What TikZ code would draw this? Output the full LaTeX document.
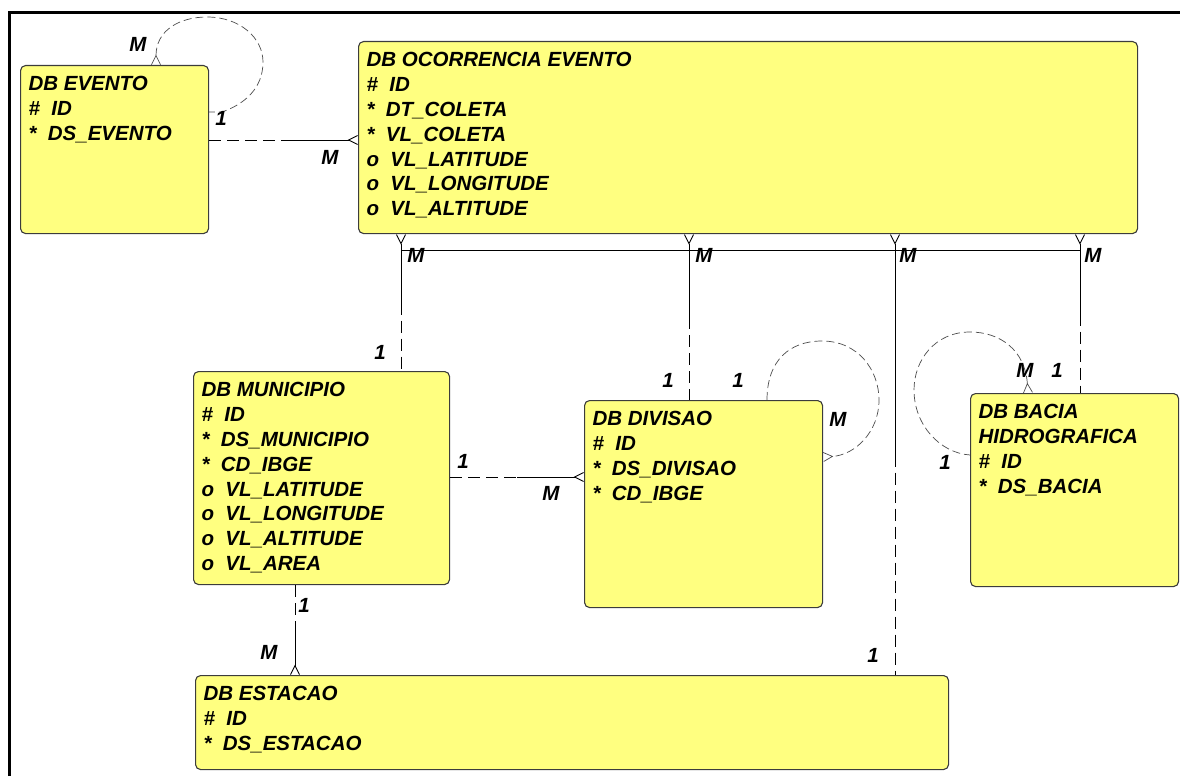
\documentclass[tikz,border=0pt]{standalone}
\usepackage{fontspec}
\setmainfont{Liberation Sans}
\usetikzlibrary{arrows.meta,calc}

\definecolor{amarelo}{RGB}{255,255,128}
\definecolor{borda}{RGB}{60,60,60}
\newcommand{\campos}{\fontsize{20.5}{24.8}\selectfont\bfseries\itshape}
\newcommand{\caixa}[3]{\parbox[c][\dimexpr#2pt-22pt\relax][t]{\dimexpr#1pt-16pt\relax}{#3}}

\tikzset{
  tabela/.style={draw=borda, line width=1.1pt, fill=amarelo, rounded corners=5pt,
    anchor=north west, inner xsep=8pt, inner ysep=11pt, font=\campos},
  card/.style={font=\campos, inner sep=0pt},
  obrig/.style={line width=0.9pt},
  opcional/.style={line width=0.9pt, dash pattern=on 12pt off 6pt},
  laco/.style={line width=0.7pt, draw=black!70, dash pattern=on 8pt off 4pt},
  pe inicio/.style={{Straight Barb[reversed,length=9pt,width=9pt]}-},
  pe fim/.style={-{Straight Barb[reversed,length=9pt,width=9pt]}},
}

\begin{document}
\begin{tikzpicture}[x=1pt,y=-1pt]
  \useasboundingbox (0,0) rectangle (1180,776);
  \draw[line width=3pt] (9,776) -- (9,13) -- (1180,13);

  % entidades
  \node[tabela] (evento) at (20,65)
    {\caixa{188}{168}{DB EVENTO\\\#~~ID\\{*}~~DS\_EVENTO}};
  \node[tabela] (ocorrencia) at (358,41)
    {\caixa{779}{192}{DB OCORRENCIA EVENTO\\\#~~ID\\{*}~~DT\_COLETA\\{*}~~VL\_COLETA\\o~~VL\_LATITUDE\\o~~VL\_LONGITUDE\\o~~VL\_ALTITUDE}};
  \node[tabela] (municipio) at (193,371)
    {\caixa{256}{213}{DB MUNICIPIO\\\#~~ID\\{*}~~DS\_MUNICIPIO\\{*}~~CD\_IBGE\\o~~VL\_LATITUDE\\o~~VL\_LONGITUDE\\o~~VL\_ALTITUDE\\o~~VL\_AREA}};
  \node[tabela] (divisao) at (584,400)
    {\caixa{238}{207}{DB DIVISAO\\\#~~ID\\{*}~~DS\_DIVISAO\\{*}~~CD\_IBGE}};
  \node[tabela] (bacia) at (970,393)
    {\caixa{208}{193}{DB BACIA\\HIDROGRAFICA\\\#~~ID\\{*}~~DS\_BACIA}};
  \node[tabela] (estacao) at (195,675)
    {\caixa{753}{94}{DB ESTACAO\\\#~~ID\\{*}~~DS\_ESTACAO}};

  % evento -- ocorrencia
  \coordinate (ev1) at (evento.east |- 0,140);
  \coordinate (oc1) at (ocorrencia.west |- 0,140);
  \coordinate (evm) at ($(ev1)!.5!(oc1)$);
  \draw[opcional] (ev1) -- (evm);
  \draw[obrig,pe inicio] (oc1) -- (evm);

  % ocorrencia -- municipio, divisao, estacao, bacia
  \coordinate (oc2) at (ocorrencia.south -| 401,0);
  \coordinate (mu1) at (municipio.north -| 401,0);
  \coordinate (mum) at ($(oc2)!.5!(mu1)$);
  \draw[obrig,pe inicio] (oc2) -- (mum);
  \draw[opcional] (mum) -- (mu1);

  \coordinate (oc3) at (ocorrencia.south -| 689,0);
  \coordinate (di1) at (divisao.north -| 689,0);
  \coordinate (dim) at ($(oc3)!.5!(di1)$);
  \draw[obrig,pe inicio] (oc3) -- (dim);
  \draw[opcional] (dim) -- (di1);

  \coordinate (oc4) at (ocorrencia.south -| 895,0);
  \coordinate (es1) at (estacao.north -| 895,0);
  \coordinate (esm) at ($(oc4)!.5!(es1)$);
  \draw[obrig,pe inicio] (oc4) -- (esm);
  \draw[opcional] (esm) -- (es1);

  \coordinate (oc5) at (ocorrencia.south -| 1080,0);
  \coordinate (ba1) at (bacia.north -| 1080,0);
  \coordinate (bam) at ($(oc5)!.5!(ba1)$);
  \draw[obrig,pe inicio] (oc5) -- (bam);
  \draw[opcional] (bam) -- (ba1);

  \coordinate (barra1) at (401,250);
  \coordinate (barra2) at (1080,250);
  \draw[obrig] (barra1) -- (barra2);

  % municipio -- divisao
  \coordinate (mu2) at (municipio.east |- 0,477);
  \coordinate (di2) at (divisao.west |- 0,477);
  \coordinate (mdm) at ($(mu2)!.5!(di2)$);
  \draw[opcional] (mu2) -- (mdm);
  \draw[obrig,pe inicio] (di2) -- (mdm);

  % municipio -- estacao
  \coordinate (mu3) at (municipio.south -| 295,0);
  \coordinate (es2) at (estacao.north -| 295,0);
  \coordinate (mem) at ($(mu3)!.5!(es2)$);
  \draw[opcional] (mu3) -- (mem);
  \draw[obrig,pe inicio] (es2) -- (mem);

  % autorrelacionamentos
  \coordinate (ev2) at (evento.north -| 156,0);
  \coordinate (ev3) at (evento.east |- 0,112);
  \draw[laco,pe inicio] (ev2) .. controls (156,30) and (180,17) .. (207,17)
    .. controls (240,17) and (263,38) .. (263,62)
    .. controls (263,88) and (245,104) .. (222,112) -- (ev3);

  \coordinate (di3) at (divisao.north -| 767,0);
  \coordinate (di4) at (divisao.east |- 0,457);
  \draw[laco,pe fim] (di3) .. controls (767,360) and (790,341) .. (822,341)
    .. controls (858,341) and (879,370) .. (879,400)
    .. controls (879,432) and (855,455) .. (di4);

  \coordinate (ba2) at (bacia.north -| 1028,0);
  \coordinate (ba3) at (bacia.west |- 0,455);
  \draw[laco,pe inicio] (ba2) .. controls (1025,350) and (1000,332) .. (970,332)
    .. controls (935,332) and (914,360) .. (914,390)
    .. controls (914,425) and (940,453) .. (ba3);

  % cardinalidades
  \node[card] (c-ev-m)  at (138,44)  {M};
  \node[card] (c-ev-1)  at (221,118) {1};
  \node[card] (c-oc-m1) at (330,157) {M};
  \node[card] (c-oc-m2) at (416,255) {M};
  \node[card] (c-oc-m3) at (704,255) {M};
  \node[card] (c-oc-m4) at (908,255) {M};
  \node[card] (c-oc-m5) at (1093,255) {M};
  \node[card] (c-mu-1)  at (380,352) {1};
  \node[card] (c-di-1a) at (668,380) {1};
  \node[card] (c-di-1b) at (738,380) {1};
  \node[card] (c-di-m)  at (838,419) {M};
  \node[card] (c-es-1)  at (873,655) {1};
  \node[card] (c-ba-m)  at (1025,370) {M};
  \node[card] (c-ba-1a) at (1057,370) {1};
  \node[card] (c-ba-1b) at (945,462) {1};
  \node[card] (c-md-1)  at (463,461) {1};
  \node[card] (c-md-m)  at (551,493) {M};
  \node[card] (c-me-1)  at (304,605) {1};
  \node[card] (c-me-m)  at (269,652) {M};
\end{tikzpicture}
\end{document}
